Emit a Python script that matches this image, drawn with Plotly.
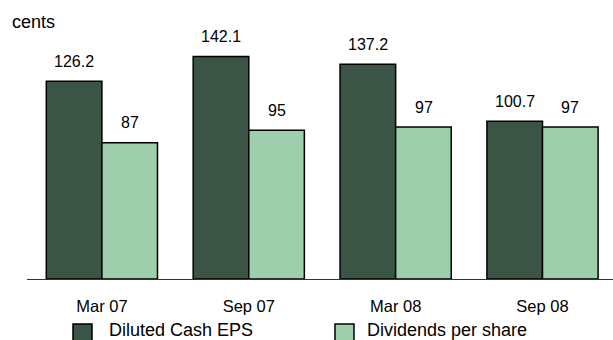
import plotly.graph_objects as go

# Half-year periods and per-share figures (cents)
periods = ["Mar 07", "Sep 07", "Mar 08", "Sep 08"]
diluted_cash_eps = [126.2, 142.1, 137.2, 100.7]
dividends_per_share = [87, 95, 97, 97]

series_names = ["Diluted Cash EPS", "Dividends per share"]
dark_green = "#3a5445"
light_green = "#9dcfad"
FONT = "Liberation Sans, Arial, sans-serif"

W, H = 613, 340
ML, MR, MT, MB = 27, 0, 20, 61
plot_w = W - ML - MR
plot_h = H - MT - MB


def px_x(px):
    """Pixel column -> paper x."""
    return (px - ML) / plot_w


def px_y(py):
    """Pixel row -> paper y."""
    return (H - MB - py) / plot_h


fig = go.Figure()
for name, vals, col in [
    (series_names[0], diluted_cash_eps, dark_green),
    (series_names[1], dividends_per_share, light_green),
]:
    fig.add_trace(go.Bar(
        x=periods, y=vals, name=name,
        marker=dict(color=col, line=dict(color="black", width=1.5)),
        showlegend=False,
    ))

# Value labels above each bar
offsets = [-0.19, 0.19]
for off, vals in zip(offsets, [diluted_cash_eps, dividends_per_share]):
    for i, v in enumerate(vals):
        fig.add_annotation(
            x=i + off, y=v, xref="x", yref="y",
            text=f"{v:g}", showarrow=False,
            yanchor="middle", yshift=20,
            font=dict(family=FONT, size=16, color="black"),
        )

# Unit label
fig.add_annotation(
    x=px_x(12), y=px_y(22), xref="paper", yref="paper",
    text="cents", showarrow=False, xanchor="left", yanchor="middle",
    xshift=-2, font=dict(family=FONT, size=18, color="black"),
)

# Legend drawn below the axis
legend_items = [(73, 109, dark_green, series_names[0]),
                (335, 367, light_green, series_names[1])]
for sq_x, tx, col, name in legend_items:
    fig.add_shape(
        type="rect", xref="paper", yref="paper",
        x0=px_x(sq_x), x1=px_x(sq_x + 19), y0=px_y(324), y1=px_y(344),
        fillcolor=col, line=dict(color="black", width=1.5),
    )
    fig.add_annotation(
        x=px_x(tx), y=px_y(330), xref="paper", yref="paper",
        text=name, showarrow=False, xanchor="left", yanchor="middle",
        xshift=-2, font=dict(family=FONT, size=18, color="black"),
    )

fig.update_layout(
    width=W, height=H,
    margin=dict(l=ML, r=MR, t=MT, b=MB, pad=0),
    paper_bgcolor="white", plot_bgcolor="white",
    barmode="group", bargap=0.243, bargroupgap=0,
    font=dict(family=FONT, size=16, color="black"),
    xaxis=dict(
        range=[-0.51, 3.48], showgrid=False, ticks="",
        showline=True, linecolor="#333333", linewidth=1,
        tickfont=dict(family=FONT, size=16.5, color="black"),
        ticklabelstandoff=12,
    ),
    yaxis=dict(
        range=[0, plot_h / 1.566], visible=False, showgrid=False,
    ),
)

fig.write_html("out.html")
